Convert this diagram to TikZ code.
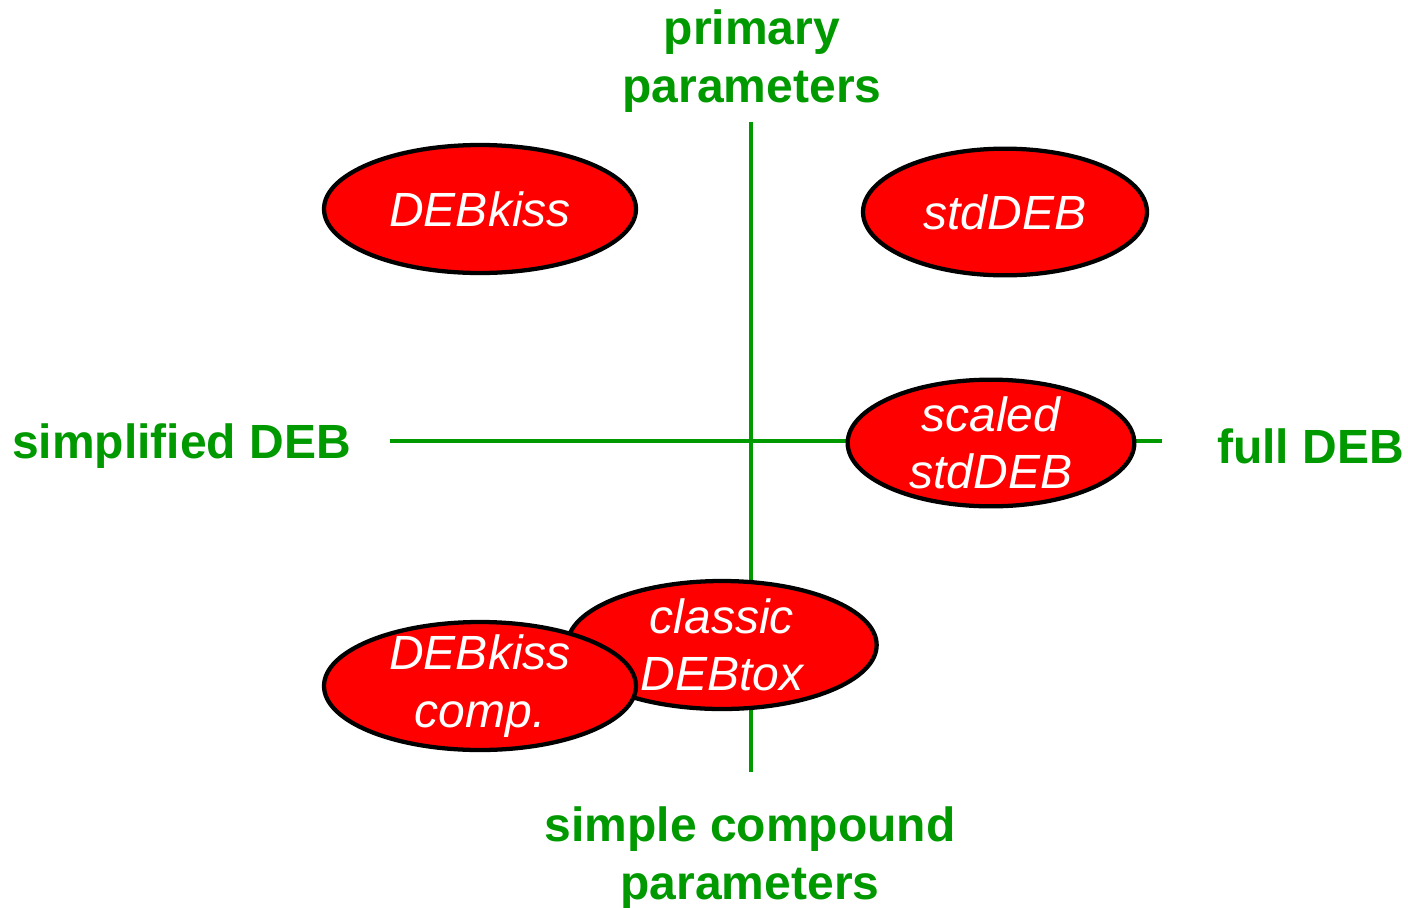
\documentclass[tikz,border=0pt]{standalone}
\usepackage{fontspec}
\setmainfont{Liberation Sans}
\usetikzlibrary{shapes.geometric}
\definecolor{axisgreen}{RGB}{0,153,0}
\tikzset{
  axis/.style={draw=axisgreen, line width=3.2pt},
  axislabel/.style={text=axisgreen, font=\fontsize{36}{43}\selectfont\bfseries, align=center, inner sep=0pt},
  model/.style={ellipse, draw=black, fill=red, line width=3.2pt, inner sep=-8pt,
    text=white, font=\fontsize{36}{43}\selectfont\itshape, align=center},
}
\begin{document}
\begin{tikzpicture}[x=0.75pt, y=-0.75pt]
  \useasboundingbox (0,0) rectangle (1408,907);

  % axes
  \coordinate (top) at (751,122);
  \coordinate (bottom) at (751,772);
  \coordinate (left) at (390,441);
  \coordinate (right) at (1162,441);
  \draw[axis] (top) -- (bottom);
  \draw[axis] (left) -- (right);

  % axis labels
  \node[axislabel] (lprim) at (752,61) {primary\\parameters};
  \node[axislabel, anchor=east] (lsimp) at (351,446) {simplified DEB};
  \node[axislabel, anchor=west] (lfull) at (1217,446) {full DEB};
  \node[axislabel] (lcomp) at (750,858) {simple compound\\parameters};

  % models
  \node[model, minimum width=234pt, minimum height=96pt] (kiss) at (480,209) {DEBkiss};
  \node[model, minimum width=213pt, minimum height=95pt] (std) at (1005,212) {stdDEB};
  \node[model, minimum width=215pt, minimum height=95pt] (scaled) at (991,443) {scaled\\stdDEB};
  \node[model, minimum width=232pt, minimum height=96pt] (tox) at (722,645) {classic\\DEBtox};
  \node[model, minimum width=234pt, minimum height=96pt] (kissc) at (480,686) {DEBkiss\\comp.};
\end{tikzpicture}
\end{document}
